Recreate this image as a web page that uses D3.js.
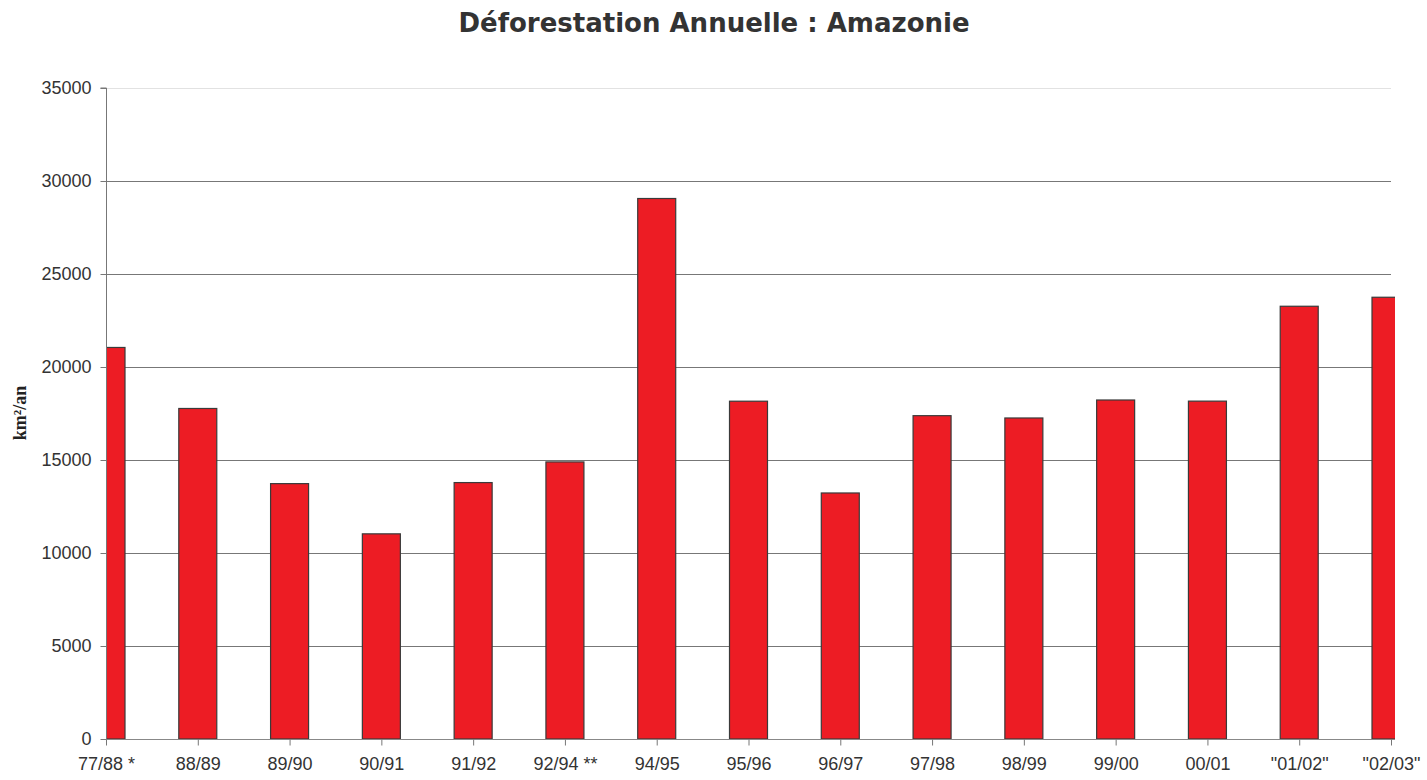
<!DOCTYPE html>
<html lang="fr">
<head>
  <meta charset="UTF-8">
  <title>Déforestation Annuelle : Amazonie</title>
  <script src="https://d3js.org/d3.v7.min.js"></script>
  <style>
    body { margin: 0; background: #fff; }
    svg { display: block; }
  </style>
</head>
<body>
  <svg width="1427" height="780"></svg>
  <script>
    const periods = ["77/88 *", "88/89", "89/90", "90/91", "91/92", "92/94 **", "94/95", "95/96",
      "96/97", "97/98", "98/99", "99/00", "00/01", "\"01/02\"", "\"02/03\""];
    const deforestation = [21050, 17770, 13730, 11030, 13786, 14896, 29059, 18161,
      13227, 17383, 17259, 18226, 18165, 23266, 23750];
    const yTicks = [0, 5000, 10000, 15000, 20000, 25000, 30000, 35000];

    const svg = d3.select("svg");
    const plotLeft = 106, plotRight = 1391, clipRight = 1395, plotTop = 88, plotBottom = 739;

    const x = d3.scalePoint().domain(periods).range([plotLeft, plotRight]);
    const y = d3.scaleLinear().domain([0, 35000]).range([plotBottom, plotTop]);
    const barW = 38;

    svg.append("text")
      .attr("x", 714).attr("y", 32)
      .attr("text-anchor", "middle")
      .attr("font-family", "DejaVu Sans, Verdana, sans-serif")
      .attr("font-weight", "bold")
      .attr("font-size", "26px")
      .attr("fill", "#333")
      .text("Déforestation Annuelle : Amazonie");

    // gridlines
    svg.append("g").selectAll("line")
      .data(yTicks.filter(d => d > 0))
      .join("line")
      .attr("x1", plotLeft).attr("x2", plotRight)
      .attr("y1", d => Math.round(y(d)) + 0.5).attr("y2", d => Math.round(y(d)) + 0.5)
      .attr("stroke", d => d === 35000 ? "#e2e2e2" : "#777")
      .attr("stroke-width", 1);

    svg.append("defs").append("clipPath").attr("id", "plot")
      .append("rect").attr("x", plotLeft).attr("y", 0)
      .attr("width", clipRight - plotLeft).attr("height", plotBottom + 1);

    svg.append("g").attr("clip-path", "url(#plot)")
      .selectAll("rect")
      .data(periods.map((p, i) => ({ p, v: deforestation[i] })))
      .join("rect")
      .attr("x", d => x(d.p) - barW / 2)
      .attr("y", d => y(d.v))
      .attr("width", barW)
      .attr("height", d => plotBottom - y(d.v))
      .attr("fill", "#ED1C24")
      .attr("stroke", "#3a3a3a")
      .attr("stroke-width", 1.2);

    const yAxis = svg.append("g")
      .attr("transform", `translate(${plotLeft + 0.5},0)`)
      .call(d3.axisLeft(y).tickValues(yTicks).tickSize(6).tickPadding(9).tickFormat(d3.format("d")));
    yAxis.select(".domain").attr("stroke", "#777").attr("d", `M-6,${plotTop}H0V${plotBottom}`);
    yAxis.selectAll(".tick line").attr("stroke", "#777");
    yAxis.selectAll("text")
      .attr("font-family", "Liberation Sans, Arial, sans-serif")
      .attr("font-size", "18px").attr("fill", "#333");

    const xAxis = svg.append("g")
      .attr("transform", `translate(0,${plotBottom + 0.5})`)
      .call(d3.axisBottom(x).tickSize(6).tickPadding(12));
    xAxis.select(".domain").attr("stroke", "#888").attr("d", `M${plotLeft},0H${clipRight}`);
    xAxis.selectAll(".tick line").attr("stroke", "#777");
    xAxis.selectAll("text")
      .attr("font-family", "Liberation Sans, Arial, sans-serif")
      .attr("font-size", "18px").attr("fill", "#333");

    svg.append("text")
      .attr("transform", "translate(26,413) rotate(-90)")
      .attr("text-anchor", "middle")
      .attr("font-family", "Liberation Serif, Times New Roman, serif")
      .attr("font-weight", "bold")
      .attr("font-size", "18px")
      .attr("fill", "#222")
      .text("km²/an");
  </script>
</body>
</html>
